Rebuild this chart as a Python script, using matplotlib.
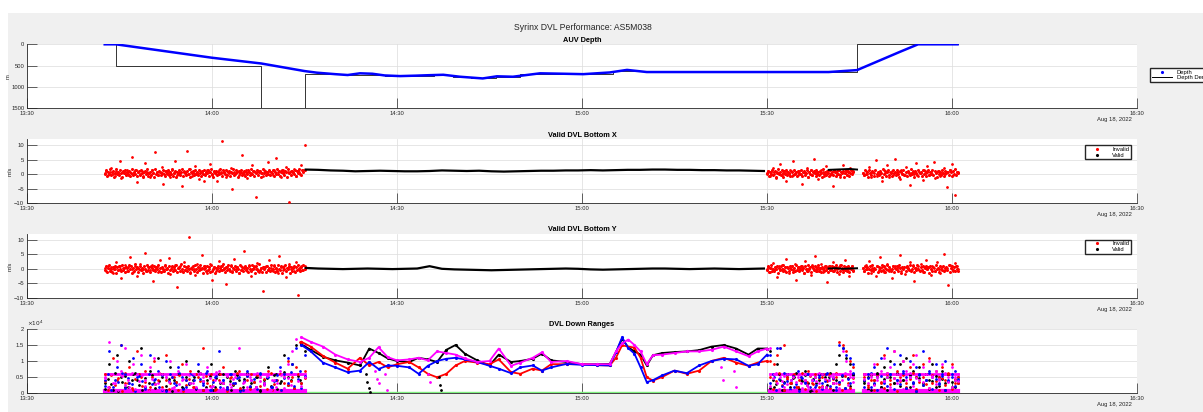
import numpy as np
import pandas as pd
import matplotlib
matplotlib.use('Agg')
import matplotlib.pyplot as plt
import matplotlib.dates as mdates
from matplotlib.lines import Line2D
from matplotlib.patches import Rectangle

plt.rcParams['font.family'] = ['Liberation Sans', 'DejaVu Sans']

# time is minutes after 13:30 on Aug 18, 2022
t0 = pd.Timestamp('2022-08-18 13:30')

# ---- AUV depth ----
depth_t = [12.6, 14.4, 30, 38, 45, 47, 50, 52, 54, 56, 58, 60.5, 63, 65, 67.5, 70.2, 73.9, 76.2,
           78.8, 81, 83.2, 87, 90.2, 94.5, 97.3, 100.5, 110, 120, 130, 134.6, 141.6, 144.5, 150.9]
depth = [0, 0, 315, 450, 627, 665, 700, 720, 680, 690, 730, 745, 735, 725, 714, 760, 800, 750,
         760, 720, 680, 690, 700, 660, 600, 650, 650, 650, 650, 605, 174, 0, 0]
demand_t = [12.6, 14.4, 38.0, 45.1, 52, 58, 66, 69, 72, 76, 80, 95, 101, 134.6, 150.9]
demand = [0, 500, 1500, 690, 720, 740, 725, 760, 795, 760, 700, 620, 640, 0, 0]

# ---- DVL bottom velocity X / Y (m/s): scattered invalid pings ----
inv_x_a = [0.4, 1.2, -0.3, 0.8, 2.1, 0.1, -0.6, 1.0, 0.5, 4.5, -1.2, 0.9, 0.3, 1.6, -0.2, 0.7, 5.8, 0.0, 1.3, -2.8,
           0.6, 0.2, 1.1, -0.5, 3.9, 0.8, 0.4, -1.0, 1.5, 0.3, 7.6, 0.9, -0.4, 0.6, 2.6, -3.5, 1.0, 0.2, 0.7, -0.8,
           1.4, 0.5, 4.6, -0.1, 0.9, 0.3, -4.2, 1.2, 0.6, 8.1, 0.0, 1.7, -0.7, 0.5, 2.9, 0.4, -1.6, 1.1, 0.8, -2.4,
           0.2, 1.3, 0.6, 3.4, -0.3, 0.9, 0.1, -2.2, 1.5, 0.7, 11.5, 0.4, -0.9, 1.0, 0.3, 2.2, -5.0, 0.8, 0.5, 1.2,
           -0.4, 0.9, 6.5, 0.2, 1.4, -1.4, 0.6, 0.3, 3.1, 1.0, -7.8, 0.7, 1.1, 0.4, -0.6, 1.6, 0.8, 4.2, 1.2, 0.9,
           -0.2, 1.3, 5.5, 0.6, 1.0, -1.1, 1.5, 0.7, 2.4, 0.9, -9.5, 1.1, 0.4, 1.8, -0.5, 1.2, 0.8, 3.0, 1.4, 10.2]
inv_x_b = [0.2, 1.0, -0.5, 0.6, 2.3, 0.0, -1.3, 0.8, 0.4, 3.6, -0.2, 1.2, 0.5, -2.5, 0.9, 0.1, 1.5, -0.7, 4.4, 0.3,
           0.7, -0.4, 1.1, 0.2, -3.2, 0.8, 0.5, 2.0, -0.9, 0.6, 1.3, -0.1, 5.1, 0.4, 0.9, -1.8, 0.2, 1.4, 0.7, -0.6,
           2.7, 0.3, 1.0, -0.3, 0.5, -4.0, 1.2, 0.6, 0.1, 1.6, -1.1, 0.8, 3.3, 0.4, 1.1, -0.2, 0.7, 2.0, 0.5, 1.0]
inv_x_c = [0.5, -0.3, 1.1, 0.2, 2.6, -1.0, 0.7, 0.3, 4.8, -0.5, 0.9, 0.1, -2.2, 1.3, 0.4, 3.2, -0.8, 0.6, 1.0, -0.1,
           5.3, 0.3, 0.8, -1.5, 1.4, 0.2, -0.4, 2.4, 0.7, -3.6, 0.5, 1.2, 0.0, 3.8, -0.6, 0.9, 0.4, -1.9, 1.6, 0.3,
           2.9, -0.2, 0.8, 0.1, 4.1, -1.2, 0.6, 1.1, -0.7, 0.4, 2.1, 0.2, -4.4, 0.9, 1.3, 3.5, -0.3, -7.2, 0.6, 0.8]
inv_y_a = [0.3, -0.8, 1.1, -0.2, 0.6, -1.5, 0.0, 2.4, -0.5, 0.9, -3.1, 0.2, 1.4, -0.7, 0.5, 4.2, -0.1, -1.0, 0.8, -2.6,
           0.4, 1.6, -0.3, 0.1, 5.6, -0.9, 0.7, -0.4, 1.2, -4.3, 0.0, 0.6, -1.2, 2.9, 0.3, -0.6, 1.0, -0.2, 3.7, -1.8,
           0.5, -0.1, 1.3, -6.4, 0.2, 0.8, -0.8, 2.2, -0.3, 0.4, 10.8, -1.1, 0.7, 0.1, -2.0, 1.5, -0.5, 0.3, 4.9, -0.2,
           0.9, -1.4, 0.0, 1.8, -3.8, 0.6, -0.7, 0.2, 2.6, -0.4, 1.1, 0.4, -5.2, 0.7, -0.1, 1.4, -0.9, 3.3, 0.0, 0.5,
           -1.6, 0.9, -0.3, 6.1, 0.3, -0.6, 1.2, -2.4, 0.1, 0.8, -0.2, 2.0, -1.0, 0.4, -7.5, 0.6, 1.0, -0.5, 3.0, 0.2,
           -0.8, 1.3, 0.0, -1.3, 4.5, 0.5, -0.4, 0.9, -2.9, 0.3, 1.6, -0.1, 0.7, -0.6, 2.5, -9.0, 0.4, 1.1, -0.3, 0.8]
inv_y_b = [-0.2, 0.7, -1.1, 0.4, 2.0, -0.5, 0.1, -2.7, 0.9, -0.3, 1.3, 0.0, -0.8, 3.4, 0.5, -1.6, 0.2, 0.8, -0.4, 1.7,
           -3.9, 0.3, 0.6, -0.1, 1.0, -1.3, 2.6, 0.1, -0.6, 0.4, -2.1, 1.2, 0.0, 4.3, -0.7, 0.5, -0.2, 1.5, -1.0, 0.3,
           0.8, -4.6, 0.2, 1.1, -0.4, 2.3, -0.9, 0.6, 0.0, -1.7, 1.4, 0.4, -0.3, 3.0, -0.1, 0.7, -2.3, 0.2, 1.0, -0.5]
inv_y_c = [0.4, -0.6, 1.2, -0.1, 2.8, -1.4, 0.3, 0.0, -2.5, 0.9, -0.3, 3.9, 0.5, -1.0, 0.2, 1.5, -0.7, 0.1, -3.3, 0.8,
           1.1, -0.2, 0.6, 4.7, -0.9, 0.3, -1.8, 0.7, 0.0, 2.2, -0.5, 1.3, -4.1, 0.2, 0.9, -0.4, 1.7, -1.2, 0.5, 3.1,
           -0.1, 0.6, -2.0, 1.0, 0.3, -0.8, 2.5, 0.1, -1.5, 0.7, 5.0, -0.3, 0.4, -5.6, 1.2, 0.0, -0.6, 2.0, 0.8, -0.2]

# dense core of the invalid pings
core_x_a = [0.2, 1.4, -0.6, 0.9, 0.1, 1.7, -0.2, 0.6, 1.1, -0.8, 0.4, 1.9, 0.0, 0.7, -0.4, 1.3, 0.5, -0.9, 1.0, 0.3,
            1.6, -0.1, 0.8, 0.2, 1.2, -0.7, 0.5, 1.8, -0.3, 0.9, 0.1, 1.4, -0.5, 0.6, 1.0, -0.2, 1.5, 0.4, -1.0, 0.7,
            1.1, 0.0, 1.7, -0.6, 0.3, 0.8, -0.1, 1.3, 0.5, -0.8, 1.9, 0.2, 0.6, -0.4, 1.2, 0.9, -0.3, 0.4, 1.6, 0.1,
            -0.7, 1.0, 0.3, 1.5, -0.2, 0.7, 0.0, 1.8, -0.5, 0.5, 1.1, -0.9, 0.8, 0.2, 1.4, -0.1, 0.6, 1.7, -0.6, 0.9,
            0.4, -0.3, 1.2, 0.1, 1.9, -0.8, 0.7, 0.3, 1.0, -0.4, 1.5, 0.0, 0.8, -0.2, 1.3, 0.5, -0.7, 1.1, 0.2, 1.6,
            -0.1, 0.9, 0.4, 1.4, -0.6, 0.6, 1.8, 0.1, -0.9, 1.0, 0.3, 1.2, -0.3, 0.7, 0.0, 1.7, 0.5, -0.5, 1.3, 0.8,
            0.2, 1.5, -0.2, 0.6, 1.1, -0.7, 0.9, 0.4, 1.9, -0.4, 0.1, 1.3, 0.7, -0.8, 1.0, 0.3, 1.6, -0.1, 0.5, 1.2,
            -0.5, 0.8, 0.0, 1.4, 0.6, -0.3, 1.7, 0.2, 1.0, -0.6, 0.9, 0.4, 1.5, -0.2, 0.7, 1.1, -0.9, 0.3, 1.8, 0.5,
            1.2, -0.4, 0.6, 0.1, 1.6, -0.1, 0.9, 0.5, 1.3, -0.7, 0.8, 0.2, 1.9, 0.0, 1.0, -0.5, 0.7, 1.4, 0.3, -0.2,
            1.1, 0.6, -0.8, 1.7, 0.4, 0.9, -0.3, 1.2, 0.7, 0.1, 1.5, -0.6, 1.0, 0.5, 1.8, 0.2, -0.1, 1.3, 0.8, 1.4]
core_x_b = [0.3, 1.2, -0.5, 0.8, 0.0, 1.5, -0.2, 0.6, 1.0, -0.8, 0.4, 1.7, 0.1, 0.7, -0.4, 1.3, 0.5, -0.9, 1.1, 0.2,
            1.4, -0.1, 0.9, 0.3, -0.6, 1.0, 0.6, -0.3, 1.6, 0.2, 0.8, -0.7, 1.2, 0.4, 0.0, 1.5, -0.5, 0.7, 1.1, -0.2,
            0.5, 1.3, -0.8, 0.9, 0.1, 1.6, -0.4, 0.6, 1.0, 0.3, -0.6, 1.4, 0.2, 0.8, -0.1, 1.2, 0.4, -0.9, 1.7, 0.0,
            0.7, -0.3, 1.1, 0.5, -0.7, 1.5, 0.1, 0.9, -0.2, 1.3, 0.6, -0.5, 1.0, 0.2, 1.6, -0.4, 0.8, 0.3, 1.2, -0.8,
            0.4, 1.4, -0.1, 0.7, 1.1, -0.6, 0.3, 1.5, 0.0, 0.9]
core_x_c = [0.5, -0.4, 1.3, 0.1, 0.9, -0.8, 1.6, 0.3, -0.2, 1.1, 0.6, -0.6, 1.4, 0.0, 0.8, -0.3, 1.2, 0.4, -0.9, 1.7,
            0.2, 1.0, -0.5, 0.7, 1.5, -0.1, 0.5, -0.7, 1.3, 0.3, 0.9, -0.4, 1.6, 0.1, -0.8, 1.1, 0.6, 0.0, 1.4, -0.2,
            0.8, -0.6, 1.2, 0.4, -0.3, 1.7, 0.2, 0.9, -0.9, 1.0, 0.5, -0.1, 1.5, 0.3, 0.7, -0.5, 1.3, 0.0, 1.1, -0.7,
            0.6, 1.4, -0.2, 0.8, 0.1, 1.6, -0.4, 1.0, 0.4, -0.8, 1.2, 0.2, 0.9, -0.3, 1.5, 0.5, -0.6, 1.1, 0.3, 0.7,
            -0.1, 1.3, 0.6, -0.5, 1.0, 0.2, 1.7, -0.2, 0.8, 0.4]
core_y_a = [-0.4, 0.9, -1.2, 0.3, 1.3, -0.7, 0.1, -1.0, 0.6, -0.2, 1.1, -1.4, 0.5, -0.5, 0.8, 0.0, -0.9, 1.4, -0.3, 0.4,
            -1.1, 0.7, 0.2, -0.6, 1.2, -0.1, 0.9, -1.3, 0.3, -0.8, 1.5, -0.2, 0.6, -1.0, 0.1, 1.0, -0.5, 0.4, -1.5, 0.8,
            0.0, -0.7, 1.3, -0.3, 0.5, -1.2, 0.9, 0.2, -0.4, 1.1, -0.9, 0.6, -0.1, 1.4, -0.6, 0.3, -1.1, 0.7, 0.1, -0.8,
            1.2, -0.2, 0.4, -1.4, 0.8, -0.5, 0.0, 1.0, -0.9, 0.5, -0.3, 1.3, -1.0, 0.2, 0.7, -0.6, 1.5, -0.1, -1.2, 0.9,
            -0.4, 0.6, -0.8, 1.1, 0.1, -1.3, 0.4, -0.2, 0.9, -0.7, 1.4, 0.0, -1.0, 0.5, -0.5, 1.2, -0.1, 0.3, -1.5, 0.8,
            0.2, -0.9, 1.0, -0.3, 0.6, -1.1, 1.3, -0.6, 0.0, 0.7, -1.4, 0.4, -0.2, 1.1, -0.8, 0.3, 0.9, -0.5, 1.5, -0.1,
            -1.0, 0.5, -0.4, 1.2, 0.1, -0.7, 0.8, -1.2, 0.3, -0.1, 1.0, -0.9, 0.6, 0.0, -1.3, 1.4, -0.3, 0.7, -0.6, 0.2,
            1.1, -0.5, 0.4, -1.1, 0.9, 0.0, -0.8, 1.3, -0.2, 0.5, -1.4, 0.8, 0.1, -0.6, 1.5, -0.4, 0.3, -1.0, 0.7, -0.1,
            0.6, -1.2, 1.0, -0.3, 0.2, -0.9, 1.4, -0.5, 0.0, 0.9, -1.1, 0.4, -0.7, 1.2, 0.1, -0.4, 0.8, -1.5, 0.5, -0.2,
            1.3, -0.8, 0.3, -0.1, 1.1, -1.3, 0.6, -0.6, 0.2, 1.0, -1.0, 0.7, -0.3, 1.4, 0.0, -0.9, 0.5, -0.4, 1.2, 0.1]
core_y_b = [-0.3, 0.8, -1.1, 0.4, 1.2, -0.6, 0.1, -0.9, 0.6, -0.2, 1.0, -1.3, 0.3, -0.5, 0.9, 0.0, -0.8, 1.3, -0.4, 0.5,
            -1.0, 0.7, 0.2, -0.7, 1.1, -0.1, 0.8, -1.2, 0.4, -0.6, 1.3, -0.3, 0.6, -0.9, 0.1, 1.0, -0.5, 0.3, -1.3, 0.9,
            0.0, -0.7, 1.2, -0.2, 0.5, -1.1, 0.9, 0.2, -0.4, 1.0, -0.8, 0.6, -0.1, 1.3, -0.6, 0.3, -1.0, 0.7, 0.1, -0.9,
            1.1, -0.3, 0.4, -1.2, 0.8, -0.5, 0.0, 1.0, -0.8, 0.5, -0.2, 1.2, -1.0, 0.2, 0.7, -0.6, 1.3, -0.1, -1.1, 0.9,
            -0.4, 0.6, -0.7, 1.1, 0.1, -1.2, 0.4, -0.2, 0.9, -0.6]
core_y_c = [0.4, -0.9, 1.1, -0.2, 0.6, -1.3, 0.0, 0.9, -0.5, 1.3, -0.7, 0.3, -0.1, 1.0, -1.1, 0.5, 0.2, -0.6, 1.2, -0.3,
            0.8, -1.0, 0.1, 1.3, -0.4, 0.6, -0.8, 0.0, 1.1, -1.2, 0.4, -0.2, 0.9, -0.6, 1.2, 0.2, -1.3, 0.7, -0.1, 0.5,
            -0.9, 1.0, 0.3, -0.5, 1.3, -0.7, 0.1, 0.8, -1.1, 0.4, -0.3, 1.2, 0.0, -0.8, 0.6, -0.4, 1.1, -1.0, 0.2, 0.9,
            -0.2, 0.5, -1.3, 1.0, 0.1, -0.6, 0.7, -0.9, 1.3, -0.1, 0.4, -1.2, 0.8, 0.0, -0.5, 1.1, -0.8, 0.3, 0.6, -0.4,
            1.2, -1.1, 0.2, 0.9, -0.3, 0.5, -0.7, 1.0, 0.0, -0.6]

valid_x = [1.6, 1.5, 1.3, 1.2, 1.0, 1.1, 1.2, 1.1, 1.0, 1.0, 1.1, 1.3, 1.2, 1.1, 1.2, 1.0, 0.9, 1.0, 1.1,
           1.2, 1.2, 1.3, 1.3, 1.4, 1.3, 1.4, 1.5, 1.5, 1.6, 1.6, 1.5, 1.5, 1.4, 1.4, 1.3, 1.3, 1.2, 1.1]
valid_y = [0.3, 0.1, 0.0, -0.1, 0.0, 0.1, 0.0, -0.1, 0.0, 0.1, 0.9, 0.0, -0.2, -0.3, -0.4, -0.5, -0.4, -0.3, -0.2,
           -0.1, 0.0, 0.1, 0.0, -0.2, -0.3, -0.2, -0.1, 0.0, 0.1, 0.1, 0.0, -0.1, 0.0, 0.1, 0.0, -0.1, 0.0, 0.1]
valid_x2 = [1.5, 1.6, 1.7, 1.8, 1.6]
valid_y2 = [0.1, 0.2, 0.0, 0.1, 0.2]

# ---- DVL down ranges (x10^4), four beams ----
rng_t = [44.5, 46, 48, 50, 52, 54, 55.5, 57, 58.5, 60, 62, 63.5, 65, 66.5, 68, 69.5, 71, 73, 75, 76.5, 78.5,
         80, 82, 83.5, 85, 87.5, 90, 92.5, 94.5, 95.5, 96.5, 97.5, 98.5, 99.5, 100.5, 101.5, 103, 105, 107,
         109, 111, 113, 115, 117, 118.5, 120]
rng_k = [1.52, 1.35, 1.13, 1.02, 0.95, 0.86, 1.39, 1.25, 1.08, 1.0, 0.97, 1.1, 1.05, 0.97, 1.35, 1.5, 1.23, 1.02,
         0.86, 1.2, 0.97, 1.0, 1.07, 1.23, 1.02, 0.97, 0.9, 0.9, 0.91, 1.27, 1.69, 1.43, 1.3, 1.2, 0.86, 1.18,
         1.25, 1.28, 1.3, 1.34, 1.45, 1.5, 1.39, 1.2, 1.39, 1.39]
rng_b = [1.5, 1.3, 0.95, 0.8, 0.65, 0.7, 0.97, 0.75, 0.86, 0.85, 0.8, 0.6, 0.85, 1.0, 1.07, 1.1, 1.05, 0.97,
         0.85, 0.76, 0.62, 0.8, 0.86, 0.7, 0.8, 0.91, 0.88, 0.87, 0.86, 1.27, 1.74, 1.4, 1.23, 0.8, 0.34, 0.4,
         0.55, 0.7, 0.62, 0.86, 1.0, 1.07, 1.05, 0.85, 0.9, 1.2]
rng_r = [1.6, 1.45, 1.16, 0.95, 0.76, 1.1, 0.86, 0.97, 0.8, 0.9, 0.97, 0.8, 0.6, 0.49, 0.6, 0.86, 1.0, 0.95,
         0.9, 1.05, 0.65, 0.6, 0.76, 0.7, 0.9, 0.9, 0.9, 0.87, 0.86, 1.1, 1.49, 1.45, 1.42, 1.1, 0.49, 0.39,
         0.5, 0.7, 0.6, 0.7, 1.0, 1.1, 0.95, 0.85, 0.95, 1.0]
rng_m = [1.74, 1.6, 1.45, 1.2, 1.05, 0.97, 1.1, 1.43, 1.12, 1.02, 1.05, 1.1, 1.02, 1.3, 1.25, 1.2, 1.08, 0.97,
         1.0, 1.39, 0.85, 0.95, 1.1, 1.27, 0.97, 1.0, 0.9, 0.9, 0.9, 1.3, 1.55, 1.67, 1.5, 1.3, 0.9, 1.18,
         1.2, 1.25, 1.3, 1.3, 1.35, 1.45, 1.3, 1.15, 1.3, 1.39]
drop_k_t = [55.0, 55.2, 55.4, 55.6, 66.8, 67.0, 67.2]
drop_k = [0.6, 0.35, 0.15, 0.02, 0.5, 0.25, 0.08]
drop_m_t = [56.5, 56.7, 57.0, 58.0, 58.3, 65.0, 65.3, 112.5, 112.8, 114.6, 115.0]
drop_m = [0.7, 0.45, 0.3, 0.6, 0.1, 0.6, 0.35, 0.8, 0.4, 0.7, 0.2]

cloud_k_a = [0.3, 0.9, 0.1, 1.2, 0.5, 0.2, 1.0, 0.6, 0.4, 1.4, 0.2, 0.7, 0.3, 1.1, 0.5, 0.1, 0.8, 0.4, 0.6, 0.2,
             1.0, 0.3, 0.5, 0.7, 0.1, 0.4, 0.9, 0.2, 0.6, 0.3, 0.5, 0.1, 0.7, 0.4, 0.2, 0.6, 0.3, 0.5, 0.1, 0.4,
             0.8, 0.2, 0.6, 0.3, 1.2, 0.5, 0.9, 1.5, 0.4, 1.3]
cloud_r_a = [0.6, 0.2, 1.1, 0.4, 1.5, 0.3, 0.8, 0.1, 1.3, 0.5, 0.7, 0.2, 1.0, 0.4, 0.6, 1.2, 0.3, 0.5, 0.1, 0.9,
             0.4, 0.7, 0.2, 0.5, 1.4, 0.3, 0.6, 0.1, 0.4, 0.8, 0.2, 0.5, 0.3, 0.7, 0.1, 0.4, 0.6, 0.2, 0.5, 0.3,
             0.7, 0.1, 0.4, 0.6, 0.3, 1.0, 0.5, 0.8, 1.6, 0.7]
cloud_b_a = [0.4, 1.3, 0.2, 0.8, 1.5, 0.6, 0.3, 1.1, 0.5, 0.9, 0.2, 1.2, 0.4, 0.7, 0.1, 1.0, 0.6, 0.3, 0.8, 0.5,
             0.2, 0.6, 0.4, 0.9, 0.3, 0.7, 0.1, 0.5, 1.3, 0.4, 0.2, 0.6, 0.3, 0.5, 0.1, 0.7, 0.4, 0.2, 0.6, 0.3,
             0.5, 0.2, 0.4, 0.8, 0.6, 1.1, 0.9, 1.4, 0.7, 1.2]
cloud_m_a = [0.5, 1.6, 0.3, 1.0, 0.7, 1.4, 0.2, 0.9, 0.6, 1.2, 0.4, 0.8, 1.1, 0.3, 0.6, 0.5, 1.0, 0.2, 0.7, 0.4,
             0.9, 0.3, 0.6, 0.1, 0.5, 0.8, 0.2, 0.4, 0.7, 0.3, 0.6, 0.2, 0.5, 1.4, 0.3, 0.6, 0.4, 0.2, 0.5, 0.3,
             0.6, 0.4, 0.2, 0.7, 0.5, 0.9, 1.3, 1.7, 0.6, 1.5]
cloud_k_b = [1.3, 0.2, 0.9, 0.4, 0.1, 0.6, 0.3, 0.5, 0.2, 0.4, 0.7, 0.3, 0.1, 0.5, 0.4, 0.6, 0.2, 0.5, 0.3, 0.9,
             1.2, 1.4, 1.1, 0.9, 0.6]
cloud_r_b = [1.0, 0.9, 1.2, 1.4, 1.5, 0.5, 0.3, 0.6, 0.2, 0.5, 0.4, 0.7, 0.3, 0.6, 0.2, 0.5, 0.4, 0.6, 0.3, 0.5,
             1.6, 1.5, 1.3, 1.0, 0.8]
cloud_b_b = [1.2, 0.5, 1.4, 1.4, 0.3, 0.6, 0.4, 0.2, 0.7, 0.5, 0.3, 0.6, 0.4, 0.2, 0.5, 0.3, 0.6, 0.4, 0.5, 0.2,
             1.5, 1.4, 1.2, 1.1, 0.9]
cloud_m_b = [1.4, 0.6, 0.3, 0.5, 0.2, 0.6, 0.4, 0.1, 0.5, 0.3, 0.6, 0.2, 0.4, 0.5, 0.3, 0.6, 0.2, 0.4, 0.5, 0.3,
             0.6, 1.3, 1.0, 0.7, 0.5]
cloud_k_c = [0.3, 0.5, 0.1, 0.4, 0.6, 0.2, 0.8, 0.5, 1.0, 0.3, 0.6, 0.9, 0.4, 1.1, 0.2, 0.7, 0.5, 0.8, 0.3, 0.6,
             0.4, 0.9, 0.2, 0.5, 0.7, 0.3, 0.6, 0.2, 0.4, 0.3]
cloud_r_c = [0.5, 0.2, 0.6, 0.4, 0.9, 0.3, 1.2, 0.6, 0.4, 1.3, 0.7, 0.5, 1.0, 0.3, 0.8, 1.2, 0.5, 0.6, 0.9, 0.4,
             1.1, 0.3, 0.7, 0.5, 0.8, 0.4, 0.6, 0.9, 0.3, 0.5]
cloud_b_c = [0.4, 0.6, 0.2, 0.8, 0.5, 1.1, 0.3, 1.4, 0.6, 0.9, 0.4, 1.2, 0.7, 0.5, 1.0, 0.3, 0.8, 0.6, 1.3, 0.4,
             0.7, 0.5, 0.9, 0.3, 0.6, 1.0, 0.4, 0.5, 0.7, 0.4]
cloud_m_c = [0.6, 0.3, 0.5, 0.9, 0.4, 0.7, 1.1, 0.5, 0.8, 1.3, 0.6, 0.4, 1.0, 0.7, 0.5, 0.9, 1.2, 0.4, 0.8, 0.6,
             1.0, 0.5, 0.7, 0.4, 0.9, 0.6, 0.5, 0.8, 0.4, 0.6]

# dense low part of the range clouds
low_k_a = [0.12, 0.45, 0.28, 0.61, 0.07, 0.35, 0.52, 0.19, 0.40, 0.63, 0.24, 0.09, 0.48, 0.31, 0.56, 0.15, 0.38, 0.60,
           0.22, 0.44, 0.05, 0.33, 0.58, 0.17, 0.50, 0.27, 0.42, 0.11, 0.64, 0.36, 0.20, 0.53, 0.08, 0.46, 0.30, 0.59,
           0.14, 0.39, 0.25, 0.55, 0.10, 0.43, 0.62, 0.18, 0.34, 0.51, 0.06, 0.29, 0.47, 0.21, 0.57, 0.13, 0.37, 0.65,
           0.26, 0.41, 0.16, 0.54, 0.32, 0.49]
low_r_a = [0.38, 0.10, 0.55, 0.24, 0.47, 0.06, 0.62, 0.30, 0.15, 0.43, 0.58, 0.21, 0.35, 0.08, 0.51, 0.27, 0.64, 0.18,
           0.40, 0.12, 0.49, 0.33, 0.57, 0.05, 0.26, 0.44, 0.19, 0.60, 0.36, 0.09, 0.53, 0.23, 0.41, 0.14, 0.59, 0.31,
           0.07, 0.46, 0.28, 0.63, 0.17, 0.39, 0.52, 0.11, 0.34, 0.56, 0.22, 0.45, 0.13, 0.61, 0.29, 0.42, 0.08, 0.50,
           0.25, 0.37, 0.16, 0.58, 0.32, 0.48]
low_b_a = [0.22, 0.58, 0.09, 0.41, 0.33, 0.63, 0.16, 0.47, 0.27, 0.05, 0.52, 0.38, 0.13, 0.60, 0.29, 0.44, 0.19, 0.55,
           0.07, 0.36, 0.49, 0.24, 0.62, 0.11, 0.40, 0.31, 0.56, 0.17, 0.45, 0.26, 0.64, 0.08, 0.35, 0.53, 0.20, 0.42,
           0.14, 0.59, 0.30, 0.48, 0.06, 0.37, 0.54, 0.23, 0.43, 0.12, 0.61, 0.28, 0.50, 0.18, 0.39, 0.57, 0.10, 0.46,
           0.32, 0.65, 0.21, 0.44, 0.15, 0.52]
low_m_a = [0.47, 0.18, 0.60, 0.32, 0.09, 0.53, 0.25, 0.41, 0.64, 0.14, 0.37, 0.56, 0.21, 0.06, 0.45, 0.29, 0.62, 0.12,
           0.50, 0.34, 0.17, 0.58, 0.27, 0.43, 0.08, 0.55, 0.31, 0.19, 0.61, 0.39, 0.11, 0.48, 0.23, 0.65, 0.35, 0.15,
           0.52, 0.28, 0.44, 0.07, 0.59, 0.33, 0.20, 0.49, 0.13, 0.63, 0.38, 0.24, 0.54, 0.10, 0.42, 0.30, 0.57, 0.16,
           0.46, 0.26, 0.60, 0.36, 0.22, 0.51]
low_k_b = [0.15, 0.42, 0.28, 0.60, 0.09, 0.35, 0.51, 0.20, 0.46, 0.63, 0.12, 0.38, 0.55, 0.24, 0.07, 0.44, 0.31, 0.58,
           0.18, 0.49, 0.26, 0.62, 0.10, 0.40, 0.33, 0.53, 0.16, 0.47, 0.22, 0.57]
low_r_b = [0.50, 0.13, 0.37, 0.61, 0.25, 0.08, 0.45, 0.30, 0.56, 0.19, 0.41, 0.64, 0.11, 0.34, 0.52, 0.27, 0.06, 0.48,
           0.22, 0.59, 0.36, 0.15, 0.43, 0.62, 0.29, 0.09, 0.54, 0.32, 0.17, 0.46]
low_b_b = [0.31, 0.58, 0.10, 0.44, 0.23, 0.63, 0.37, 0.14, 0.52, 0.28, 0.05, 0.47, 0.35, 0.60, 0.19, 0.41, 0.26, 0.55,
           0.12, 0.39, 0.64, 0.21, 0.48, 0.08, 0.33, 0.57, 0.16, 0.43, 0.30, 0.61]
low_m_b = [0.22, 0.46, 0.62, 0.11, 0.38, 0.54, 0.27, 0.07, 0.49, 0.33, 0.60, 0.17, 0.42, 0.25, 0.57, 0.13, 0.36, 0.64,
           0.20, 0.45, 0.09, 0.52, 0.30, 0.58, 0.15, 0.40, 0.63, 0.24, 0.50, 0.34]
low_k_c = [0.36, 0.12, 0.55, 0.28, 0.61, 0.19, 0.44, 0.08, 0.50, 0.32, 0.63, 0.23, 0.41, 0.15, 0.57, 0.30, 0.06, 0.47,
           0.26, 0.59, 0.14, 0.39, 0.53, 0.21, 0.45, 0.10, 0.60, 0.34, 0.18, 0.49]
low_r_c = [0.58, 0.24, 0.41, 0.09, 0.52, 0.33, 0.15, 0.62, 0.27, 0.46, 0.06, 0.39, 0.55, 0.20, 0.43, 0.64, 0.11, 0.35,
           0.50, 0.29, 0.17, 0.57, 0.38, 0.08, 0.48, 0.25, 0.61, 0.13, 0.44, 0.31]
low_b_c = [0.19, 0.47, 0.63, 0.30, 0.08, 0.54, 0.37, 0.22, 0.59, 0.12, 0.42, 0.27, 0.61, 0.16, 0.49, 0.34, 0.05, 0.56,
           0.25, 0.40, 0.64, 0.14, 0.45, 0.29, 0.52, 0.10, 0.38, 0.60, 0.21, 0.44]
low_m_c = [0.43, 0.07, 0.60, 0.26, 0.51, 0.14, 0.37, 0.64, 0.20, 0.46, 0.31, 0.56, 0.11, 0.40, 0.62, 0.23, 0.48, 0.09,
           0.35, 0.58, 0.17, 0.53, 0.28, 0.44, 0.05, 0.61, 0.33, 0.19, 0.50, 0.39]
mag_levels = [0.05, 0.58]
mag_widths = [3.0, 2.0]
valid_flag = [0.02, 0.02]

vel_segs = [(12.6, 45.0), (120.0, 134.0), (135.5, 151.0)]
rng_segs = [(12.6, 45.0), (120.5, 134.0), (135.8, 151.0)]
xticks_min = [0, 30, 60, 90, 120, 150, 180]


def tt(m):
    return t0 + pd.to_timedelta(np.asarray(m, dtype=float), unit='min')


def seg_times(seg, vals):
    return tt(np.linspace(seg[0], seg[1], len(vals)))


W, H = 1203, 412
fig = plt.figure(figsize=(W / 100, H / 100), dpi=100, facecolor='white')
fig.patches.append(Rectangle((8 / W, 0), 1 - 8 / W, (H - 13) / H, transform=fig.transFigure,
                             facecolor='#f0f0f0', edgecolor='none', zorder=-10))

axc = '#262626'
tops = [44.3, 139.3, 233.9, 329.0]
axes = [fig.add_axes([27 / W, (H - top - 64) / H, 1110 / W, 64 / H]) for top in tops]


def style(ax, title):
    ax.set_facecolor('white')
    ax.set_xlim(tt(0), tt(180))
    ax.set_xticks(tt(xticks_min))
    ax.xaxis.set_major_formatter(mdates.DateFormatter('%H:%M'))
    for s in ['top', 'right']:
        ax.spines[s].set_visible(False)
    for s in ['left', 'bottom']:
        ax.spines[s].set_color(axc)
        ax.spines[s].set_linewidth(0.6)
    ax.tick_params(direction='in', length=7.5, width=0.5, color=axc, labelsize=4.2,
                   labelcolor=axc, pad=2)
    ax.grid(True, color='#dcdcdc', linewidth=0.5)
    ax.set_axisbelow(True)
    ax.set_title(title, fontsize=5.3, fontweight='bold', color='black', pad=2)
    ax.text(0.9955, -0.18, 'Aug 18, 2022', transform=ax.transAxes, ha='right', va='center',
            fontsize=4.2, color=axc)


def boxed_legend(ax, handles, labels, **kw):
    ax.legend(handles, labels, fontsize=4.2, frameon=True, fancybox=False, edgecolor=axc,
              framealpha=1, borderpad=0.3, handlelength=3.5, labelspacing=0.1, borderaxespad=0, **kw)


# panel 1 - depth
ax = axes[0]
ax.plot(tt(depth_t), depth, color='blue', linewidth=1.8, zorder=3)
ax.plot(tt(demand_t), demand, color='#333333', linewidth=0.7, drawstyle='steps-post', zorder=2)
ax.set_ylim(1500, 0)
ax.set_yticks([0, 500, 1000, 1500])
style(ax, 'AUV Depth')
ax.set_ylabel('m', fontsize=4.2, color=axc)
ax.yaxis.set_label_coords(-0.015, 0.5)
h1 = [Line2D([], [], color='blue', marker='.', linestyle='none', markersize=2.5),
      Line2D([], [], color='black', linewidth=0.7)]
boxed_legend(ax, h1, ['Depth', 'Depth Demand'], loc='upper left', bbox_to_anchor=(1.0117, 0.63))

# panels 2 and 3 - bottom velocity
vel_sets = [
    (axes[1], [inv_x_a, inv_x_b, inv_x_c], [core_x_a, core_x_b, core_x_c], valid_x, valid_x2,
     'Valid DVL Bottom X'),
    (axes[2], [inv_y_a, inv_y_b, inv_y_c], [core_y_a, core_y_b, core_y_c], valid_y, valid_y2,
     'Valid DVL Bottom Y'),
]
for ax, inv, core, val, val2, title in vel_sets:
    for seg, vals in zip(vel_segs, inv):
        ax.plot(seg_times(seg, vals), vals, '.', color='red', markersize=2.0, zorder=3)
    for seg, vals in zip(vel_segs, core):
        ax.plot(seg_times(seg, vals), vals, '.', color='red', markersize=2.4, zorder=3)
    ax.plot(seg_times((45.2, 119.5), val), val, color='black', linewidth=1.6, zorder=3)
    ax.plot(seg_times((130.0, 134.6), val2), val2, color='black', linewidth=1.4, zorder=3)
    ax.set_ylim(-10, 12)
    ax.set_yticks([-10, -5, 0, 5, 10])
    style(ax, title)
    ax.set_ylabel('m/s', fontsize=4.2, color=axc)
    ax.yaxis.set_label_coords(-0.013, 0.5)
    hv = [Line2D([], [], color='red', marker='.', linestyle='none', markersize=2.5),
          Line2D([], [], color='black', marker='.', linestyle='none', markersize=2.5)]
    boxed_legend(ax, hv, ['Invalid', 'Valid'], loc='upper right', bbox_to_anchor=(0.9946, 0.91))

# panel 4 - down ranges
ax = axes[3]
ax.plot(tt([rng_segs[0][0], rng_segs[2][1]]), np.array(valid_flag) * 1e4, color='#80f080',
        linewidth=1.0, zorder=2)
for seg in rng_segs:
    for lvl, lw in zip(mag_levels, mag_widths):
        ax.plot(tt(seg), np.array([lvl, lvl]) * 1e4, color='magenta', linewidth=lw, zorder=2)
clouds = [
    ('black', [cloud_k_a, cloud_k_b, cloud_k_c], [low_k_a, low_k_b, low_k_c]),
    ('red', [cloud_r_a, cloud_r_b, cloud_r_c], [low_r_a, low_r_b, low_r_c]),
    ('blue', [cloud_b_a, cloud_b_b, cloud_b_c], [low_b_a, low_b_b, low_b_c]),
    ('magenta', [cloud_m_a, cloud_m_b, cloud_m_c], [low_m_a, low_m_b, low_m_c]),
]
for col, lists, lows in clouds:
    for seg, vals in list(zip(rng_segs, lists)) + list(zip(rng_segs, lows)):
        ax.plot(seg_times(seg, vals), np.array(vals) * 1e4, '.', color=col, markersize=2.0, zorder=3)
for col, vals in [('black', rng_k), ('red', rng_r), ('blue', rng_b), ('magenta', rng_m)]:
    ax.plot(tt(rng_t), np.array(vals) * 1e4, color=col, linewidth=1.3, marker='.', markersize=2.5,
            zorder=4)
ax.plot(tt(drop_k_t), np.array(drop_k) * 1e4, '.', color='black', markersize=2.0, zorder=4)
ax.plot(tt(drop_m_t), np.array(drop_m) * 1e4, '.', color='magenta', markersize=2.0, zorder=4)
ax.set_ylim(0, 2e4)
ax.set_yticks([0, 5000, 10000, 15000, 20000])
ax.yaxis.set_major_formatter(plt.FuncFormatter(lambda v, p: '%g' % (v / 1e4)))
style(ax, 'DVL Down Ranges')
ax.text(0.0, 1.02, r'$\times10^4$', transform=ax.transAxes, fontsize=4.2, color=axc,
        ha='left', va='bottom')

fig.text(583 / W, 1 - 27 / H, 'Syrinx DVL Performance: AS5M038', ha='center', va='center',
         fontsize=6.2, color='#262626')

fig.savefig('out.png', dpi=100, facecolor=fig.get_facecolor())
